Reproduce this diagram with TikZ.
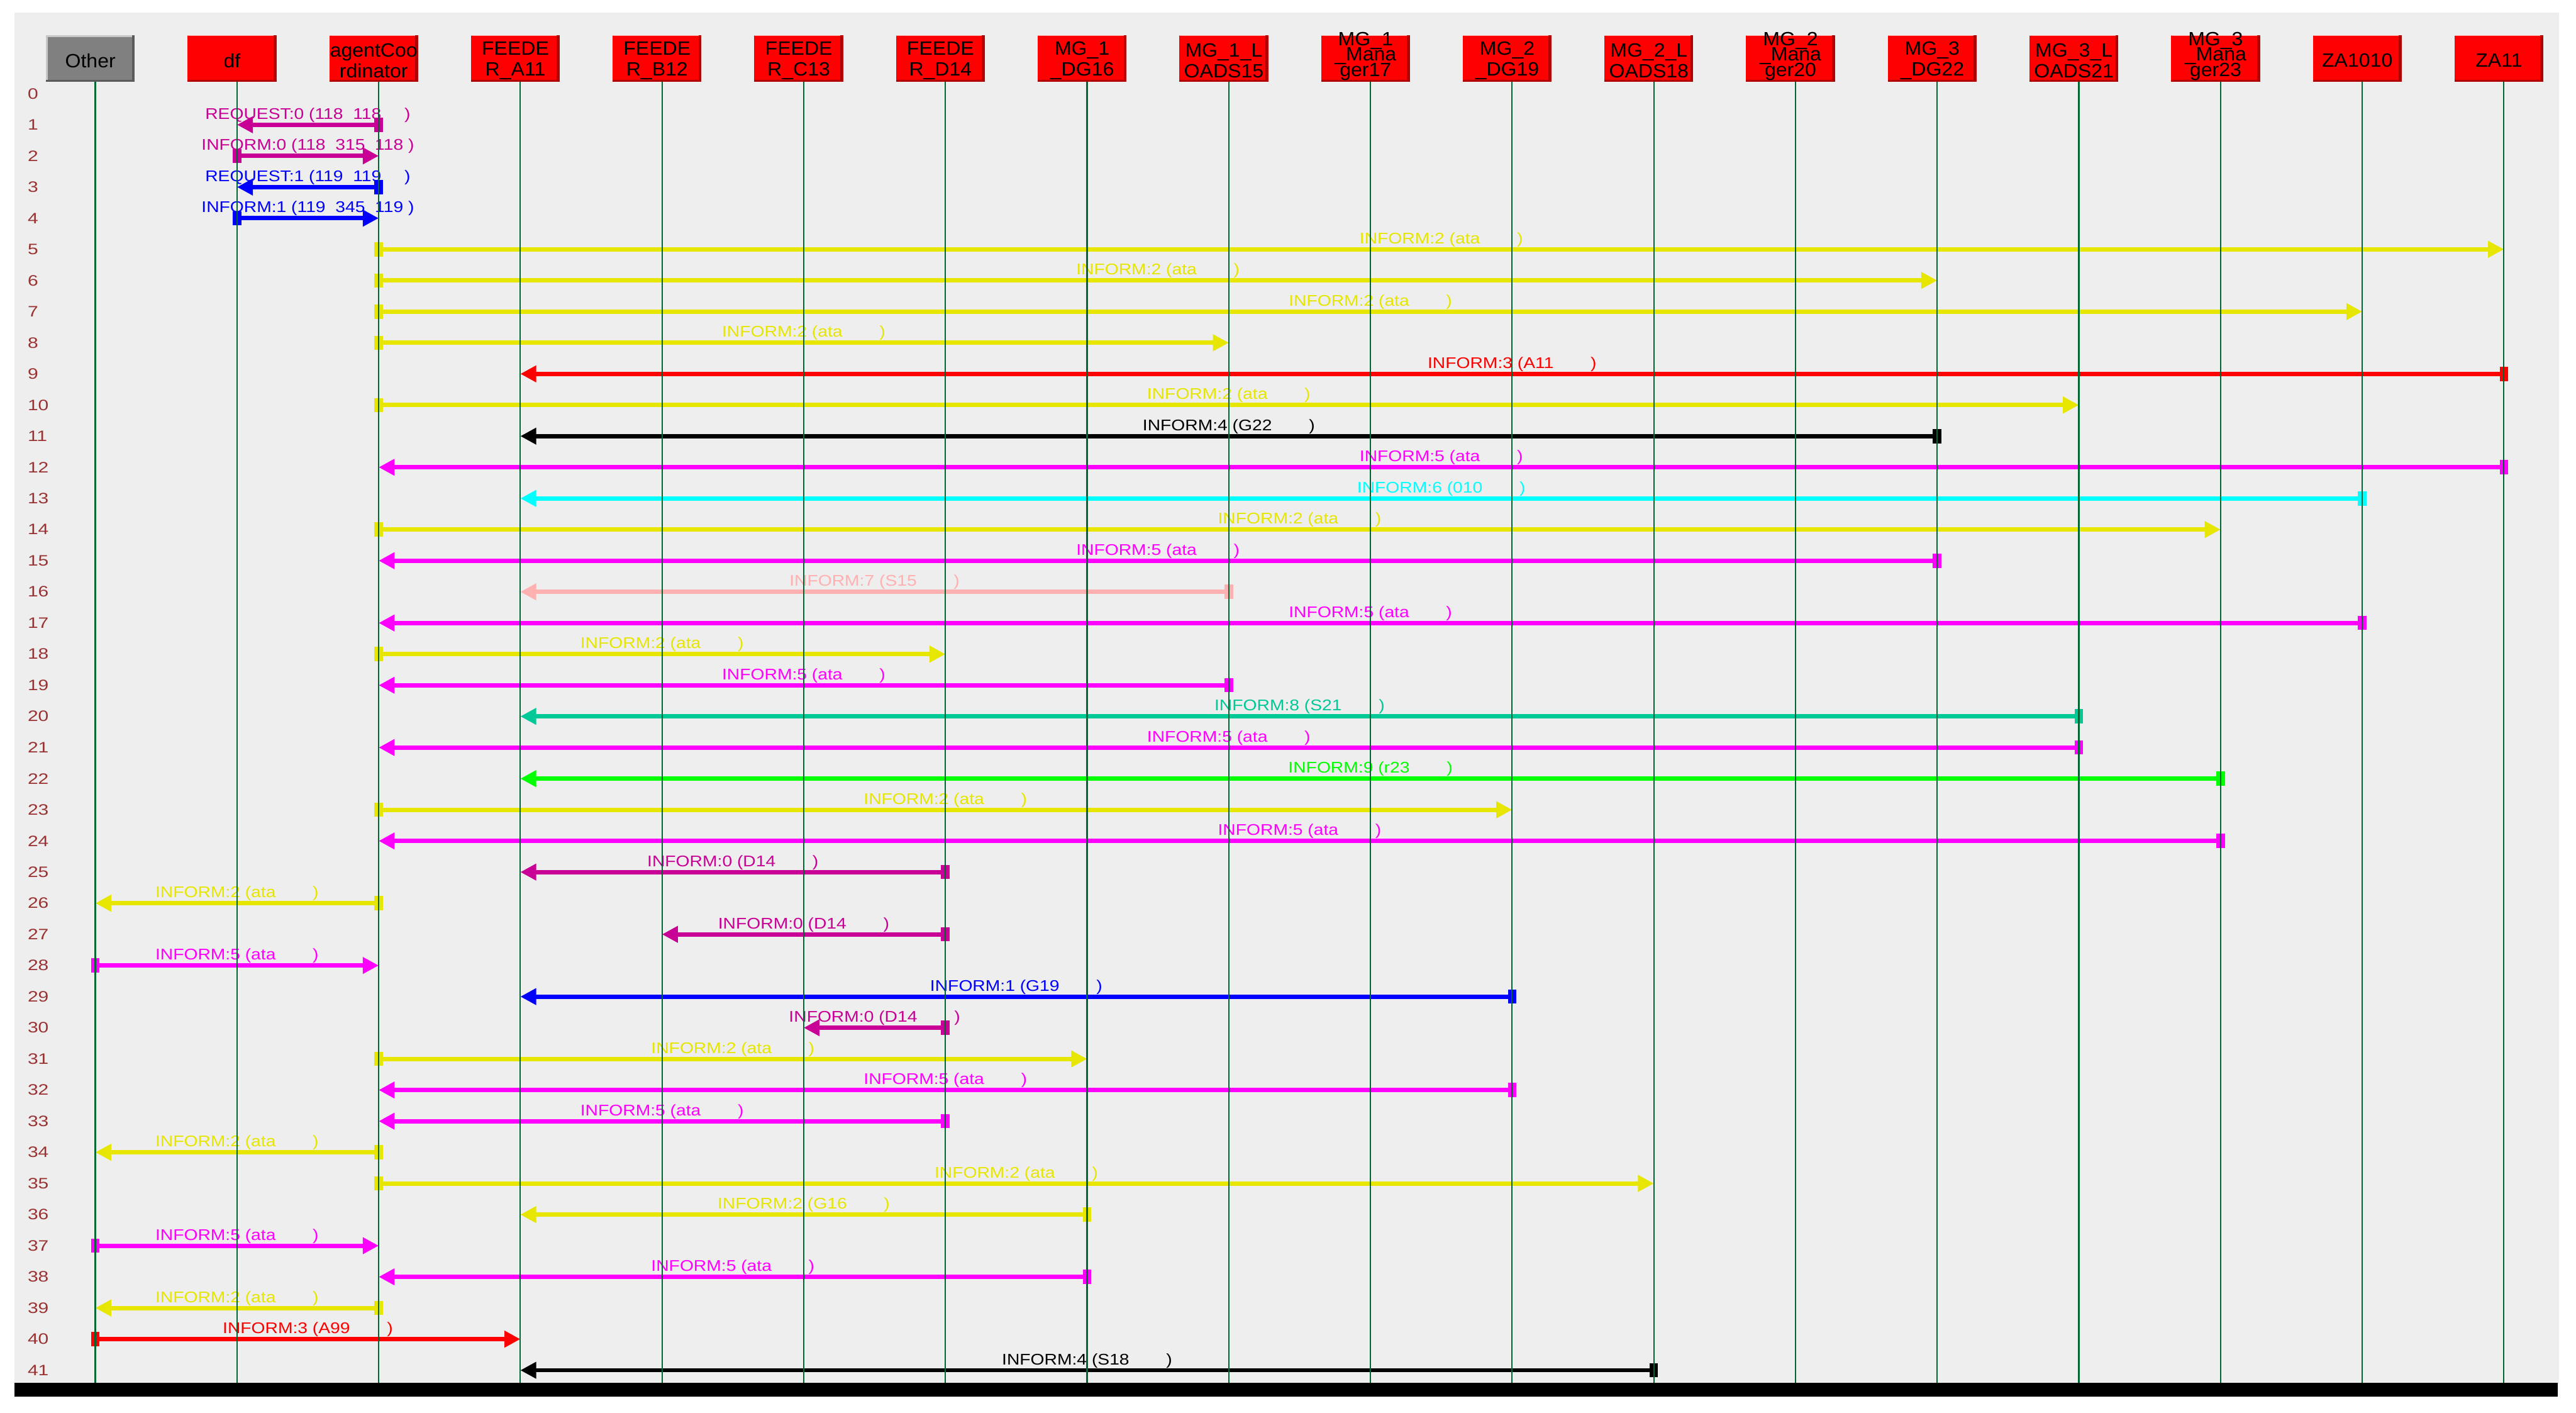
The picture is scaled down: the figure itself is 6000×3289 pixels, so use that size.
\documentclass[tikz,border=0pt]{standalone}
\usepackage{fontspec}
\setmainfont{Liberation Sans}
\newfontfamily\hdrfamily[FakeStretch=1.05]{Liberation Sans}
\newfontfamily\msgfamily[FakeStretch=1.15]{Liberation Sans}
\newfontfamily\numfamily[FakeStretch=1.25]{Liberation Sans}
\usetikzlibrary{arrows.meta}
\definecolor{cpanel}{HTML}{EEEEEE}
\definecolor{cred}{HTML}{FF0000}
\definecolor{cdarkred}{HTML}{B00000}
\definecolor{clightred}{HTML}{FFB4B4}
\definecolor{cgreybox}{HTML}{808080}
\definecolor{cdarkgrey}{HTML}{5A5A5A}
\definecolor{clightgrey}{HTML}{C8C8C8}
\definecolor{cline}{HTML}{006633}
\definecolor{cnum}{HTML}{993333}
\definecolor{cyellow}{HTML}{E6E600}
\definecolor{cmagenta}{HTML}{FF00FF}
\definecolor{cpurple}{HTML}{C80096}
\definecolor{cblue}{HTML}{0000FF}
\definecolor{ccyan}{HTML}{00FFFF}
\definecolor{cpink}{HTML}{FFB0B0}
\definecolor{cteal}{HTML}{00C896}
\definecolor{cgreen}{HTML}{00FF00}
\newcommand{\tightlines}{\lineskiplimit=-10pt\relax}
\tikzset{
  every picture/.style={line width=0.15mm},
  redbox/.style={fill=cred, minimum width=10.35mm, minimum height=5.4mm, inner sep=0pt,
    path picture={
      \fill[clightred] (path picture bounding box.north west) rectangle ([yshift=-0.08mm]path picture bounding box.north east);
      \fill[cdarkred] ([xshift=-0.35mm]path picture bounding box.north east) rectangle (path picture bounding box.south east);
      \fill[cdarkred] (path picture bounding box.south west) rectangle ([yshift=0.2mm]path picture bounding box.south east);
    }},
  greybox/.style={fill=cgreybox, minimum width=10.35mm, minimum height=5.4mm, inner sep=0pt,
    path picture={
      \fill[clightgrey] (path picture bounding box.north west) rectangle ([yshift=-0.2mm]path picture bounding box.north east);
      \fill[clightgrey] (path picture bounding box.north west) rectangle ([xshift=0.2mm]path picture bounding box.south west);
      \fill[cdarkgrey] ([xshift=-0.35mm]path picture bounding box.north east) rectangle (path picture bounding box.south east);
      \fill[cdarkgrey] (path picture bounding box.south west) rectangle ([yshift=0.2mm]path picture bounding box.south east);
    }},
  hdrtxt/.style={align=center, inner sep=0pt, yshift=-0.25mm,
    font=\hdrfamily\fontsize{6.36pt}{6.83pt}\selectfont},
  hdrtxtb/.style={align=center, inner sep=0pt, yshift=0.25mm,
    font=\hdrfamily\fontsize{6.36pt}{5.12pt}\selectfont\tightlines},
  rownum/.style={anchor=west, inner sep=0pt, text=cnum, font=\numfamily\fontsize{5pt}{6pt}\selectfont},
  lifeline/.style={draw=cline, line width=0.16mm},
  msg/.style={draw=#1, line width=0.5mm, shorten <=-0.5mm,
    arrows={Rectangle[length=1mm,width=1.65mm]-Triangle[length=1.85mm,width=1.85mm]}},
  msgtxt/.style={midway, anchor=base, yshift=0.65mm, inner sep=0pt, text=#1,
    font=\msgfamily\fontsize{5.12pt}{6pt}\selectfont},
}
\newcommand{\msggap}{\hspace{4.3mm}}
\newcommand{\agentbox}[5][hdrtxt]{% #2 index, #3 name, #4 box style, #5 text
  \coordinate (L#2) at ({222+330*#2},190);
  \node[#4] (#3) at ({210.5+330*#2},136) {};
  \node[#1] (#3txt) at (#3) {#5};
}
\newcommand{\sendmsg}[5]{% #1 row, #2 from, #3 to, #4 colour, #5 text
  \draw[msg=#4] (L#2 |- R#1) -- node[msgtxt=#4] {#5} (L#3 |- R#1);
}

\begin{document}
\begin{tikzpicture}[x=0.05mm, y=-0.05mm]
  \useasboundingbox (0,0) rectangle (6000,3289);
  % panel and bottom bar
  \fill[cpanel] (34,30) rectangle (5960,3222);
  \fill[black] (34,3220) rectangle (5958,3252);
  \coordinate (bot) at (0,3220);
  % agents
  \agentbox{0}{other}{greybox}{Other}
  \agentbox{1}{df}{redbox}{df}
  \agentbox{2}{coord}{redbox}{agentCoo\\rdinator}
  \agentbox{3}{fA}{redbox}{FEEDE\\R\_A11}
  \agentbox{4}{fB}{redbox}{FEEDE\\R\_B12}
  \agentbox{5}{fC}{redbox}{FEEDE\\R\_C13}
  \agentbox{6}{fD}{redbox}{FEEDE\\R\_D14}
  \agentbox{7}{dgA}{redbox}{MG\_1\\\_DG16}
  \agentbox{8}{ldA}{redbox}{MG\_1\_L\\OADS15}
  \agentbox[hdrtxtb]{9}{mgA}{redbox}{MG\_1\\\_Mana\\ger17}
  \agentbox{10}{dgB}{redbox}{MG\_2\\\_DG19}
  \agentbox{11}{ldB}{redbox}{MG\_2\_L\\OADS18}
  \agentbox[hdrtxtb]{12}{mgB}{redbox}{MG\_2\\\_Mana\\ger20}
  \agentbox{13}{dgC}{redbox}{MG\_3\\\_DG22}
  \agentbox{14}{ldC}{redbox}{MG\_3\_L\\OADS21}
  \agentbox[hdrtxtb]{15}{mgC}{redbox}{MG\_3\\\_Mana\\ger23}
  \agentbox{16}{zaA}{redbox}{ZA1010}
  \agentbox{17}{zaB}{redbox}{ZA11}
  % row numbers
  \foreach \r in {0,...,41}
    \node[rownum] (R\r) at (63,{218+72.5*\r}) {\r};
  % messages
  \sendmsg{1}{2}{1}{cpurple}{REQUEST:0 (118~~118\hspace{2.7mm})}
  \sendmsg{2}{1}{2}{cpurple}{INFORM:0 (118~~315~~118~)}
  \sendmsg{3}{2}{1}{cblue}{REQUEST:1 (119~~119\hspace{2.7mm})}
  \sendmsg{4}{1}{2}{cblue}{INFORM:1 (119~~345~~119~)}
  \sendmsg{5}{2}{17}{cyellow}{INFORM:2 (ata\msggap)}
  \sendmsg{6}{2}{13}{cyellow}{INFORM:2 (ata\msggap)}
  \sendmsg{7}{2}{16}{cyellow}{INFORM:2 (ata\msggap)}
  \sendmsg{8}{2}{8}{cyellow}{INFORM:2 (ata\msggap)}
  \sendmsg{9}{17}{3}{cred}{INFORM:3 (A11\msggap)}
  \sendmsg{10}{2}{14}{cyellow}{INFORM:2 (ata\msggap)}
  \sendmsg{11}{13}{3}{black}{INFORM:4 (G22\msggap)}
  \sendmsg{12}{17}{2}{cmagenta}{INFORM:5 (ata\msggap)}
  \sendmsg{13}{16}{3}{ccyan}{INFORM:6 (010\msggap)}
  \sendmsg{14}{2}{15}{cyellow}{INFORM:2 (ata\msggap)}
  \sendmsg{15}{13}{2}{cmagenta}{INFORM:5 (ata\msggap)}
  \sendmsg{16}{8}{3}{cpink}{INFORM:7 (S15\msggap)}
  \sendmsg{17}{16}{2}{cmagenta}{INFORM:5 (ata\msggap)}
  \sendmsg{18}{2}{6}{cyellow}{INFORM:2 (ata\msggap)}
  \sendmsg{19}{8}{2}{cmagenta}{INFORM:5 (ata\msggap)}
  \sendmsg{20}{14}{3}{cteal}{INFORM:8 (S21\msggap)}
  \sendmsg{21}{14}{2}{cmagenta}{INFORM:5 (ata\msggap)}
  \sendmsg{22}{15}{3}{cgreen}{INFORM:9 (r23\msggap)}
  \sendmsg{23}{2}{10}{cyellow}{INFORM:2 (ata\msggap)}
  \sendmsg{24}{15}{2}{cmagenta}{INFORM:5 (ata\msggap)}
  \sendmsg{25}{6}{3}{cpurple}{INFORM:0 (D14\msggap)}
  \sendmsg{26}{2}{0}{cyellow}{INFORM:2 (ata\msggap)}
  \sendmsg{27}{6}{4}{cpurple}{INFORM:0 (D14\msggap)}
  \sendmsg{28}{0}{2}{cmagenta}{INFORM:5 (ata\msggap)}
  \sendmsg{29}{10}{3}{cblue}{INFORM:1 (G19\msggap)}
  \sendmsg{30}{6}{5}{cpurple}{INFORM:0 (D14\msggap)}
  \sendmsg{31}{2}{7}{cyellow}{INFORM:2 (ata\msggap)}
  \sendmsg{32}{10}{2}{cmagenta}{INFORM:5 (ata\msggap)}
  \sendmsg{33}{6}{2}{cmagenta}{INFORM:5 (ata\msggap)}
  \sendmsg{34}{2}{0}{cyellow}{INFORM:2 (ata\msggap)}
  \sendmsg{35}{2}{11}{cyellow}{INFORM:2 (ata\msggap)}
  \sendmsg{36}{7}{3}{cyellow}{INFORM:2 (G16\msggap)}
  \sendmsg{37}{0}{2}{cmagenta}{INFORM:5 (ata\msggap)}
  \sendmsg{38}{7}{2}{cmagenta}{INFORM:5 (ata\msggap)}
  \sendmsg{39}{2}{0}{cyellow}{INFORM:2 (ata\msggap)}
  \sendmsg{40}{0}{3}{cred}{INFORM:3 (A99\msggap)}
  \sendmsg{41}{11}{3}{black}{INFORM:4 (S18\msggap)}
  % lifelines on top
  \foreach \i in {0,...,17}
    \draw[lifeline] (L\i) -- (L\i |- bot);
\end{tikzpicture}
\end{document}
